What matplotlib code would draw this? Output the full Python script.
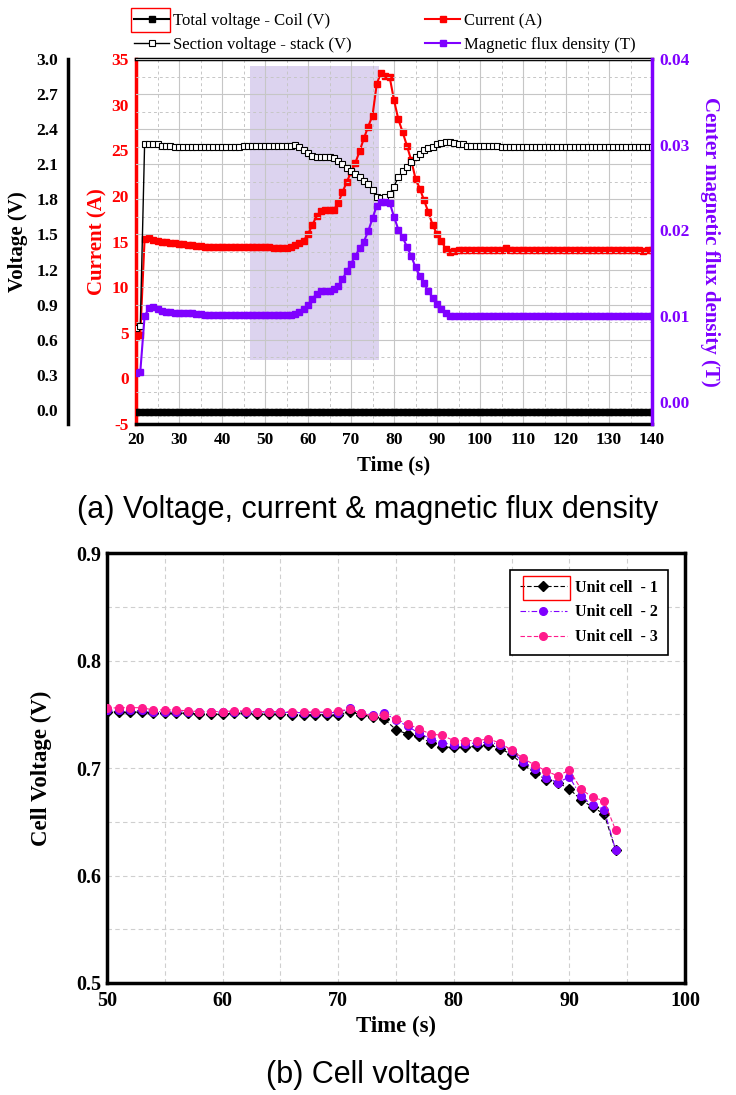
import numpy as np
import matplotlib
matplotlib.use("Agg")
import matplotlib.pyplot as plt
from matplotlib.patches import Rectangle
from matplotlib.ticker import MultipleLocator, FormatStrFormatter

plt.rcParams['font.family'] = ['Liberation Serif', 'DejaVu Serif']
plt.rcParams['font.weight'] = 'bold'
plt.rcParams['axes.unicode_minus'] = False

# ---------------- data: panel (a) ----------------
time_a = np.arange(20, 141)  # s, 1-s sampling

total_voltage_coil = [
    -0.02, -0.02, -0.02, -0.02, -0.02, -0.02, -0.02, -0.02, -0.02, -0.02,
    -0.02, -0.02, -0.02, -0.02, -0.02, -0.02, -0.02, -0.02, -0.02, -0.02,
    -0.02, -0.02, -0.02, -0.02, -0.02, -0.02, -0.02, -0.02, -0.02, -0.02,
    -0.02, -0.02, -0.02, -0.02, -0.02, -0.02, -0.02, -0.02, -0.02, -0.02,
    -0.02, -0.02, -0.02, -0.02, -0.02, -0.02, -0.02, -0.02, -0.02, -0.02,
    -0.02, -0.02, -0.02, -0.02, -0.02, -0.02, -0.02, -0.02, -0.02, -0.02,
    -0.02, -0.02, -0.02, -0.02, -0.02, -0.02, -0.02, -0.02, -0.02, -0.02,
    -0.02, -0.02, -0.02, -0.02, -0.02, -0.02, -0.02, -0.02, -0.02, -0.02,
    -0.02, -0.02, -0.02, -0.02, -0.02, -0.02, -0.02, -0.02, -0.02, -0.02,
    -0.02, -0.02, -0.02, -0.02, -0.02, -0.02, -0.02, -0.02, -0.02, -0.02,
    -0.02, -0.02, -0.02, -0.02, -0.02, -0.02, -0.02, -0.02, -0.02, -0.02,
    -0.02, -0.02, -0.02, -0.02, -0.02, -0.02, -0.02, -0.02, -0.02, -0.02,
    -0.02,
]

section_voltage_stack = [
    0.70, 0.72, 2.27, 2.27, 2.27, 2.27, 2.26, 2.255, 2.255, 2.25,
    2.25, 2.25, 2.25, 2.25, 2.25, 2.25, 2.25, 2.25, 2.25, 2.25,
    2.25, 2.25, 2.25, 2.25, 2.25, 2.255, 2.255, 2.255, 2.255, 2.255,
    2.255, 2.255, 2.255, 2.255, 2.255, 2.255, 2.26, 2.265, 2.25, 2.22,
    2.20, 2.17, 2.16, 2.16, 2.16, 2.16, 2.15, 2.13, 2.10, 2.07,
    2.04, 2.02, 1.99, 1.96, 1.93, 1.88, 1.82, 1.81, 1.82, 1.85,
    1.91, 1.99, 2.04, 2.08, 2.12, 2.16, 2.19, 2.22, 2.24, 2.25,
    2.27, 2.28, 2.29, 2.29, 2.28, 2.27, 2.27, 2.26, 2.255, 2.255,
    2.255, 2.255, 2.255, 2.255, 2.255, 2.25, 2.25, 2.25, 2.25, 2.25,
    2.25, 2.25, 2.25, 2.25, 2.25, 2.25, 2.25, 2.25, 2.25, 2.25,
    2.245, 2.245, 2.245, 2.245, 2.245, 2.245, 2.245, 2.245, 2.245, 2.245,
    2.245, 2.245, 2.245, 2.245, 2.245, 2.245, 2.245, 2.245, 2.245, 2.245,
    2.245,
]

current_a = [
    4.5, 4.8, 15.3, 15.4, 15.2, 15.1, 15.0, 14.9, 14.85, 14.8,
    14.75, 14.7, 14.65, 14.6, 14.55, 14.5, 14.45, 14.45, 14.4, 14.4,
    14.4, 14.35, 14.35, 14.35, 14.35, 14.35, 14.35, 14.35, 14.35, 14.35,
    14.35, 14.35, 14.3, 14.3, 14.3, 14.3, 14.35, 14.6, 14.8, 15.1,
    15.8, 16.8, 17.8, 18.3, 18.4, 18.4, 18.5, 19.2, 20.4, 21.5,
    22.6, 23.6, 24.9, 26.3, 27.6, 28.8, 32.3, 33.5, 33.1, 33.0,
    30.5, 28.4, 27.0, 25.5, 23.9, 21.9, 20.8, 19.5, 18.2, 16.8,
    15.8, 15.1, 14.2, 13.8, 14.0, 14.1, 14.1, 14.1, 14.1, 14.1,
    14.1, 14.1, 14.1, 14.1, 14.1, 14.1, 14.3, 14.1, 14.1, 14.1,
    14.1, 14.1, 14.1, 14.1, 14.1, 14.1, 14.1, 14.1, 14.1, 14.1,
    14.1, 14.1, 14.1, 14.1, 14.1, 14.1, 14.1, 14.1, 14.1, 14.1,
    14.05, 14.05, 14.05, 14.05, 14.05, 14.05, 14.05, 14.05, 14.0, 14.1,
    14.1,
]

flux_density_t = [
    0.0034, 0.0035, 0.0100, 0.0109, 0.0110, 0.0108, 0.0106, 0.0105, 0.0105, 0.0104,
    0.0104, 0.0103, 0.0103, 0.0103, 0.0102, 0.0102, 0.0101, 0.0101, 0.0101, 0.0101,
    0.0101, 0.0101, 0.0101, 0.0101, 0.0101, 0.0101, 0.0101, 0.0101, 0.0101, 0.0101,
    0.0101, 0.0101, 0.0101, 0.0101, 0.0101, 0.0101, 0.0101, 0.0102, 0.0105, 0.0108,
    0.0113, 0.0120, 0.0126, 0.0129, 0.0129, 0.0129, 0.0131, 0.0135, 0.0143, 0.0152,
    0.0161, 0.0170, 0.0179, 0.0187, 0.0199, 0.0214, 0.0229, 0.0233, 0.0233, 0.0232,
    0.0216, 0.0201, 0.0192, 0.0181, 0.0170, 0.0157, 0.0147, 0.0138, 0.0129, 0.0121,
    0.0114, 0.0108, 0.0104, 0.0100, 0.0100, 0.0100, 0.0100, 0.0100, 0.0100, 0.0100,
    0.0100, 0.0100, 0.0100, 0.0100, 0.0100, 0.0100, 0.0100, 0.0100, 0.0100, 0.0100,
    0.0100, 0.0100, 0.0100, 0.0100, 0.0100, 0.0100, 0.0100, 0.0100, 0.0100, 0.0100,
    0.0100, 0.0100, 0.0100, 0.0100, 0.0100, 0.0100, 0.0100, 0.0100, 0.0100, 0.0100,
    0.0100, 0.0100, 0.0100, 0.0100, 0.0100, 0.0100, 0.0100, 0.0100, 0.0100, 0.0100,
    0.0100,
]

shade_time = (46.6, 76.6)      # s
shade_current = (2.0, 34.2)    # A

legend_a = ["Total voltage - Coil (V)", "Section voltage - stack (V)",
            "Current (A)", "Magnetic flux density (T)"]

# ---------------- data: panel (b) ----------------
time_b = np.arange(50, 95)
unit_cell_1 = [
    0.7525, 0.752, 0.752, 0.752, 0.751, 0.751, 0.751, 0.751, 0.750, 0.750,
    0.750, 0.751, 0.751, 0.750, 0.750, 0.750, 0.7495, 0.7495, 0.7495, 0.7495,
    0.7495, 0.7525, 0.7495, 0.7475, 0.7454, 0.7356, 0.7316, 0.7294, 0.7233, 0.7193,
    0.7193, 0.7193, 0.7202, 0.7218, 0.7181, 0.7126, 0.7028, 0.6957, 0.689, 0.6865,
    0.6804, 0.6706, 0.6635, 0.6574, 0.6236,
]
unit_cell_2 = [
    0.754, 0.7535, 0.7535, 0.7535, 0.7525, 0.7525, 0.7525, 0.7525, 0.752, 0.752,
    0.752, 0.7525, 0.7525, 0.752, 0.752, 0.752, 0.7515, 0.7515, 0.7515, 0.7515,
    0.7515, 0.7555, 0.7515, 0.7495, 0.7509, 0.745, 0.7387, 0.7325, 0.727, 0.7233,
    0.7218, 0.7227, 0.7233, 0.7242, 0.7218, 0.7156, 0.7055, 0.6988, 0.6911, 0.6865,
    0.6917, 0.6736, 0.6656, 0.6613, 0.6236,
]
unit_cell_3 = [
    0.7555, 0.7561, 0.7561, 0.7561, 0.754, 0.754, 0.754, 0.7531, 0.7525, 0.7525,
    0.7525, 0.7531, 0.7531, 0.7525, 0.7525, 0.7525, 0.7521, 0.7521, 0.7521, 0.7521,
    0.7531, 0.7546, 0.7509, 0.7485, 0.7494, 0.7454, 0.7411, 0.7362, 0.7316, 0.7304,
    0.7255, 0.7255, 0.7255, 0.727, 0.7233, 0.7166, 0.7089, 0.7028, 0.6972, 0.6926,
    0.6982, 0.6804, 0.6727, 0.6696, 0.642,
]
legend_b = ["Unit cell  - 1", "Unit cell  - 2", "Unit cell  - 3"]

# ---------------- figure ----------------
W, H = 736, 1095
fig = plt.figure(figsize=(W / 100, H / 100), dpi=100)

def fx(px):
    return px / W

def fy(px):
    return 1 - px / H

RED = '#ff0000'
PURPLE = '#7f00ff'
PINK = '#ff1a8c'
TICK_FS = 12.5
LAB_FS = 15
TICK_FS_B = 14.5
LAB_FS_B = 16.5

# ---- panel (a) ----
axI = fig.add_axes([fx(136), fy(424), (652 - 136) / W, (424 - 59) / H])
axV = axI.twinx()
axB = axI.twinx()

axI.set_xlim(20, 140)
axI.set_ylim(-5, 35)
axV.set_ylim(-0.12, 3.0)
axB.set_ylim(-0.0026, 0.04)

axI.add_patch(Rectangle((shade_time[0], shade_current[0]),
                        shade_time[1] - shade_time[0],
                        shade_current[1] - shade_current[0],
                        facecolor='#dcd3ef', edgecolor='none', zorder=0.5))

axI.xaxis.set_major_locator(MultipleLocator(10))
axI.xaxis.set_minor_locator(MultipleLocator(5))
axI.grid(True, axis='x', which='major', color='#c6c6c6', lw=0.8, ls='-')
axI.grid(True, axis='x', which='minor', color='#c6c6c6', lw=0.7, ls=(0, (3, 3)))
axV.set_yticks([0.0, 0.3, 0.6, 0.9, 1.2, 1.5, 1.8, 2.1, 2.4, 2.7, 3.0])
axV.yaxis.set_minor_locator(MultipleLocator(0.15))
axV.yaxis.set_major_formatter(FormatStrFormatter('%.1f'))
axV.grid(True, axis='y', which='major', color='#c6c6c6', lw=0.8, ls='-')
axV.grid(True, axis='y', which='minor', color='#c6c6c6', lw=0.7, ls=(0, (3, 3)))

axI.yaxis.set_major_locator(MultipleLocator(5))
axB.set_yticks([0.00, 0.01, 0.02, 0.03, 0.04])
axB.yaxis.set_major_formatter(FormatStrFormatter('%.2f'))

lI, = axI.plot(time_a, current_a, color=RED, lw=1.5, marker='s', ms=5,
               mfc=RED, mec=RED, zorder=3)
lT, = axV.plot(time_a, total_voltage_coil, color='black', lw=1.5, marker='s',
               ms=5, mfc='black', mec='black', zorder=3)
lS, = axV.plot(time_a, section_voltage_stack, color='black', lw=1.0, marker='s',
               ms=5, mfc='white', mec='black', mew=0.8, zorder=3)
lB, = axB.plot(time_a, flux_density_t, color=PURPLE, lw=1.5, marker='s', ms=5,
               mfc=PURPLE, mec=PURPLE, zorder=3)

# spines
axI.spines['right'].set_visible(False)
axI.spines['left'].set_color(RED)
axI.spines['left'].set_linewidth(2.5)
axI.spines['top'].set_linewidth(2.5)
axI.spines['bottom'].set_linewidth(2.5)

axV.yaxis.tick_left()
axV.yaxis.set_label_position('left')
for s in ['right', 'top', 'bottom']:
    axV.spines[s].set_visible(False)
axV.spines['left'].set_visible(True)
axV.spines['left'].set_position(('outward', 68 * 0.72))
axV.spines['left'].set_linewidth(2.5)

for s in ['left', 'top', 'bottom']:
    axB.spines[s].set_visible(False)
axB.spines['right'].set_color(PURPLE)
axB.spines['right'].set_linewidth(2.5)

axI.tick_params(axis='x', which='both', length=0, labelsize=TICK_FS, pad=6)
axI.tick_params(axis='y', which='both', length=0, labelsize=TICK_FS,
                labelcolor=RED, pad=5)
axV.tick_params(axis='y', which='both', length=0, labelsize=TICK_FS, pad=7)
axB.tick_params(axis='y', which='both', length=0, labelsize=TICK_FS,
                labelcolor=PURPLE, pad=5)

axI.set_xlabel('Time (s)', fontsize=LAB_FS, fontweight='bold')
axI.xaxis.set_label_coords(0.5, -0.085)
axI.set_ylabel('Current (A)', fontsize=LAB_FS, fontweight='bold', color=RED)
axI.yaxis.set_label_coords(-0.056, 0.5)
axV.set_ylabel('Voltage (V)', fontsize=LAB_FS, fontweight='bold')
axV.yaxis.set_label_coords(-0.209, 0.5)
axB.set_ylabel('Center magnetic flux density (T)', fontsize=LAB_FS,
               fontweight='bold', color=PURPLE, rotation=270, va='bottom')
axB.yaxis.set_label_coords(1.093, 0.5)

fig.legend([lT, lS, lI, lB], legend_a, ncol=2, loc='upper left',
           bbox_to_anchor=(fx(126), fy(5)), frameon=False, borderpad=0,
           prop={'family': 'Liberation Serif', 'weight': 'normal', 'size': 12},
           handlelength=2.1, handletextpad=0.2, columnspacing=4.45,
           labelspacing=0.45)
fig.add_artist(Rectangle((fx(131), fy(32)), (170 - 131) / W, (32 - 8) / H,
                         transform=fig.transFigure, fill=False,
                         edgecolor=RED, lw=1.0))

fig.text(0.5, fy(510), '(a) Voltage, current & magnetic flux density',
         ha='center', va='center', family='Liberation Sans',
         fontweight='normal', fontsize=22)

# ---- panel (b) ----
axS = fig.add_axes([fx(107), fy(983), (685 - 107) / W, (983 - 553) / H])
axS.set_xlim(50, 100)
axS.set_ylim(0.5, 0.9)
axS.xaxis.set_major_locator(MultipleLocator(10))
axS.xaxis.set_minor_locator(MultipleLocator(5))
axS.yaxis.set_major_locator(MultipleLocator(0.1))
axS.yaxis.set_minor_locator(MultipleLocator(0.05))
axS.yaxis.set_major_formatter(FormatStrFormatter('%.1f'))
axS.grid(True, which='both', color='#cfcfcf', lw=0.8, ls=(0, (4, 3)))
axS.set_axisbelow(True)
for s in axS.spines.values():
    s.set_linewidth(2.5)
axS.tick_params(which='both', length=0, labelsize=TICK_FS_B)
axS.tick_params(axis='x', pad=6)
axS.tick_params(axis='y', pad=4)

axS.plot(time_b, unit_cell_1, color='black', lw=0.8, ls=(0, (4, 2)),
         marker='D', ms=5, mfc='black', mec='black', label=legend_b[0], zorder=3)
axS.plot(time_b, unit_cell_2, color=PURPLE, lw=0.8, ls=(0, (5, 2, 1, 2)),
         marker='o', ms=5.5, mfc=PURPLE, mec=PURPLE, label=legend_b[1], zorder=3)
axS.plot(time_b, unit_cell_3, color=PINK, lw=0.8, ls=(0, (4, 2)),
         marker='o', ms=5.5, mfc=PINK, mec=PINK, label=legend_b[2], zorder=3)

axS.set_xlabel('Time (s)', fontsize=LAB_FS_B, fontweight='bold')
axS.xaxis.set_label_coords(0.5, -0.076)
axS.set_ylabel('Cell Voltage (V)', fontsize=LAB_FS_B, fontweight='bold')
axS.yaxis.set_label_coords(-0.095, 0.5)

legS = axS.legend(loc='upper right', bbox_to_anchor=(0.9706, 0.9605),
                  borderaxespad=0, frameon=True, fancybox=False,
                  edgecolor='black', framealpha=1,
                  prop={'family': 'Liberation Serif', 'weight': 'bold', 'size': 11.5},
                  handlelength=3.0, handletextpad=0.5, labelspacing=0.55,
                  borderpad=0.6)
legS.get_frame().set_linewidth(1.2)
fig.add_artist(Rectangle((fx(523), fy(600)), (570 - 523) / W, (600 - 576) / H,
                         transform=fig.transFigure, fill=False,
                         edgecolor=RED, lw=1.0))

fig.text(0.5, fy(1075), '(b) Cell voltage', ha='center', va='center',
         family='Liberation Sans', fontweight='normal', fontsize=22)

fig.savefig('out.png', dpi=100)
